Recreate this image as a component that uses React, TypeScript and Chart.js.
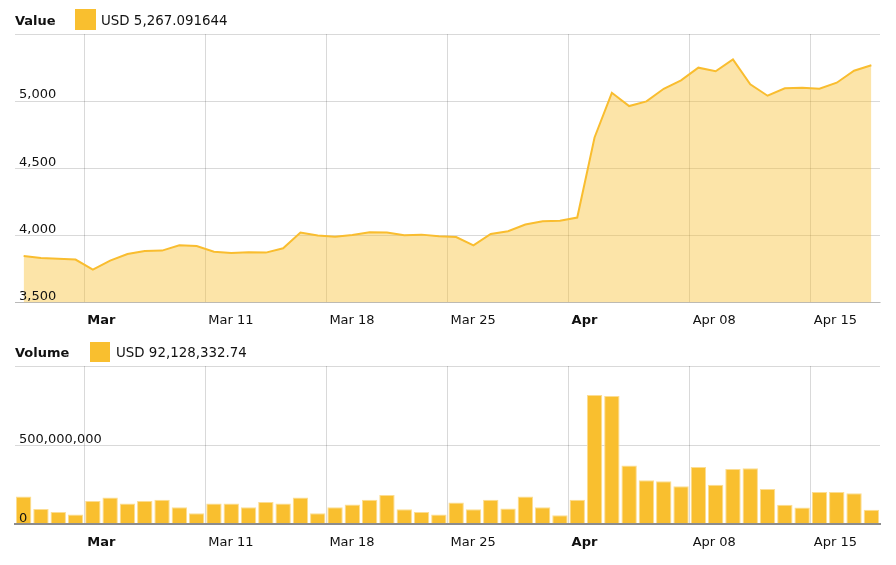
import React, { useEffect, useRef } from 'react';
import { Chart, registerables } from 'chart.js';

Chart.register(...registerables);

// ---- data ----
const dates = [
  '2019-02-28',
  '2019-03-01', '2019-03-02', '2019-03-03', '2019-03-04', '2019-03-05', '2019-03-06', '2019-03-07',
  '2019-03-08', '2019-03-09', '2019-03-10', '2019-03-11', '2019-03-12', '2019-03-13', '2019-03-14',
  '2019-03-15', '2019-03-16', '2019-03-17', '2019-03-18', '2019-03-19', '2019-03-20', '2019-03-21',
  '2019-03-22', '2019-03-23', '2019-03-24', '2019-03-25', '2019-03-26', '2019-03-27', '2019-03-28',
  '2019-03-29', '2019-03-30', '2019-03-31',
  '2019-04-01', '2019-04-02', '2019-04-03', '2019-04-04', '2019-04-05', '2019-04-06', '2019-04-07',
  '2019-04-08', '2019-04-09', '2019-04-10', '2019-04-11', '2019-04-12', '2019-04-13', '2019-04-14',
  '2019-04-15', '2019-04-16', '2019-04-17', '2019-04-18',
];

const valueUSD = [
  3845, 3831, 3826, 3819, 3744, 3811, 3860, 3883, 3886, 3925,
  3920, 3878, 3868, 3873, 3871, 3903, 4020, 3998, 3990, 4002,
  4022, 4020, 4000, 4005, 3993, 3987, 3925, 4010, 4030, 4080,
  4105, 4108, 4132, 4729, 5062, 4963, 4998, 5092, 5155, 5249,
  5222, 5311, 5125, 5040, 5095, 5099, 5092, 5137, 5226, 5267.091644,
];

const volumeUSD = [
  176500000, 98000000, 78000000, 63000000, 147000000, 170000000, 132000000, 147000000, 155000000, 109000000,
  71000000, 132000000, 132000000, 109000000, 141000000, 132000000, 170000000, 71000000, 109000000, 126000000,
  155000000, 185000000, 95000000, 78000000, 63000000, 139000000, 95000000, 155000000, 101000000, 176500000,
  109000000, 57000000, 155000000, 817000000, 811000000, 372000000, 279000000, 273000000, 241500000, 363000000,
  250000000, 349000000, 355000000, 223000000, 124000000, 107000000, 204000000, 204000000, 197000000, 92128332.74,
];

const tickDates = ['2019-03-04', '2019-03-11', '2019-03-18', '2019-03-25', '2019-04-01', '2019-04-08', '2019-04-15'];
const tickLabels = ['Mar', 'Mar 11', 'Mar 18', 'Mar 25', 'Apr', 'Apr 08', 'Apr 15'];
const boldTickLabels = ['Mar', 'Apr'];

const valueTicks = [3500, 4000, 4500, 5000, 5500];
const volumeTicks = [0, 500000000, 1000000000];

const valueTitle = 'Value';
const valueLegend = 'USD 5,267.091644';
const volumeTitle = 'Volume';
const volumeLegend = 'USD 92,128,332.74';

// ---- styles ----
const FONT = "'DejaVu Sans', Verdana, sans-serif";
const TEXT = '#111111';
const GRID = 'rgba(0,0,0,0.15)';
const LINE = '#f9bd2f';
const FILL = 'rgba(249,190,48,0.42)';
const BAR = '#f9bf2f';
const BAR_EDGE = '#fcdd92';

const DAY = 86400000;
const dayNum = (d: string) => Date.parse(d + 'T00:00:00Z') / DAY;
const xMin = dayNum(dates[0]);
const xMax = dayNum(dates[dates.length - 1]) + 1;
const labelFor = (v: number) => {
  const i = tickDates.findIndex((d) => Math.abs(dayNum(d) - v) < 1e-6);
  return i >= 0 ? tickLabels[i] : '';
};

function xScale(borderColor: string, borderWidth: number, borderZ: number) {
  return {
    type: 'linear',
    min: xMin,
    max: xMax,
    bounds: 'data',
    offset: false,
    afterBuildTicks: (axis: any) => {
      axis.ticks = tickDates.map((d) => ({ value: dayNum(d) }));
    },
    grid: { color: GRID, drawTicks: false, lineWidth: 1, offset: false },
    border: { display: true, color: borderColor, width: borderWidth, z: borderZ },
    ticks: {
      align: 'start',
      labelOffset: 3,
      padding: 10,
      maxRotation: 0,
      autoSkip: false,
      color: TEXT,
      callback: (v: any) => labelFor(Number(v)),
      font: (ctx: any) => ({
        family: FONT,
        size: 13,
        weight: boldTickLabels.includes(labelFor(ctx.tick ? ctx.tick.value : NaN)) ? 'bold' : 'normal',
      }),
    },
  };
}

function yScales(ticks: number[]) {
  const min = ticks[0];
  const max = ticks[ticks.length - 1];
  const step = ticks[1] - ticks[0];
  return {
    yGrid: {
      type: 'linear',
      position: 'left',
      min,
      max,
      grid: { color: GRID, drawTicks: false, lineWidth: 1 },
      border: { display: false },
      ticks: { display: false, stepSize: step },
    },
    yLabels: {
      type: 'linear',
      position: 'left',
      min,
      max,
      grid: { display: false, drawTicks: false },
      border: { display: false },
      ticks: {
        z: 1,
        mirror: true,
        padding: 4,
        labelOffset: -6,
        stepSize: step,
        color: TEXT,
        font: { family: FONT, size: 13 },
        callback: (v: any) => (Number(v) === max ? '' : Number(v).toLocaleString('en-US')),
      },
    },
  };
}

function Legend({ top, title, text, boxLeft, boxTop, boxSize, textLeft }: any) {
  return (
    <>
      <div style={{ position: 'absolute', left: 15, top, height: 20, lineHeight: '20px', fontFamily: FONT, fontSize: 13, fontWeight: 'bold', color: TEXT, whiteSpace: 'nowrap' }}>
        {title}
      </div>
      <div style={{ position: 'absolute', left: boxLeft, top: boxTop, width: boxSize, height: boxSize, background: BAR }} />
      <div style={{ position: 'absolute', left: textLeft, top, height: 20, lineHeight: '20px', fontFamily: FONT, fontSize: 13.4, color: TEXT, whiteSpace: 'nowrap' }}>
        {text}
      </div>
    </>
  );
}

export default function App() {
  const topRef = useRef<HTMLCanvasElement>(null);
  const botRef = useRef<HTMLCanvasElement>(null);

  useEffect(() => {
    const top = new Chart(topRef.current as HTMLCanvasElement, {
      type: 'line',
      data: {
        datasets: [
          {
            data: dates.map((d, i) => ({ x: dayNum(d) + 0.5, y: valueUSD[i] })),
            yAxisID: 'yGrid',
            borderColor: LINE,
            borderWidth: 2,
            backgroundColor: FILL,
            fill: 'start',
            pointRadius: 0,
            tension: 0,
          },
        ],
      },
      options: {
        animation: false,
        responsive: false,
        maintainAspectRatio: false,
        layout: { padding: { top: 34, left: 7, right: 16, bottom: 2 } },
        plugins: { legend: { display: false }, tooltip: { enabled: false } },
        scales: { x: xScale('rgba(0,0,0,0.15)', 1, 0), ...yScales(valueTicks) } as any,
      },
    } as any);

    const bot = new Chart(botRef.current as HTMLCanvasElement, {
      type: 'bar',
      data: {
        datasets: [
          {
            data: dates.map((d, i) => ({ x: dayNum(d) + 0.5, y: volumeUSD[i] })),
            yAxisID: 'yGrid',
            backgroundColor: BAR,
            borderColor: BAR_EDGE,
            borderWidth: 1,
            borderSkipped: 'bottom',
            barPercentage: 0.89,
            categoryPercentage: 1,
          },
        ],
      },
      options: {
        animation: false,
        responsive: false,
        maintainAspectRatio: false,
        layout: { padding: { top: 36, left: 7, right: 16, bottom: 5 } },
        plugins: { legend: { display: false }, tooltip: { enabled: false } },
        scales: { x: xScale('#8c8c8c', 2, 1), ...yScales(volumeTicks) } as any,
      },
    } as any);

    return () => {
      top.destroy();
      bot.destroy();
    };
  }, []);

  return (
    <div style={{ position: 'absolute', left: 0, top: 0, width: 896, height: 565, background: '#fff', overflow: 'hidden' }}>
      <canvas ref={topRef} width={896} height={340} style={{ position: 'absolute', left: 0, top: 0, width: 896, height: 340 }} />
      <canvas ref={botRef} width={896} height={235} style={{ position: 'absolute', left: 0, top: 330, width: 896, height: 235 }} />
      <Legend top={11} title={valueTitle} text={valueLegend} boxLeft={75} boxTop={9} boxSize={21} textLeft={101} />
      <Legend top={343} title={volumeTitle} text={volumeLegend} boxLeft={90} boxTop={342} boxSize={20} textLeft={116} />
    </div>
  );
}
